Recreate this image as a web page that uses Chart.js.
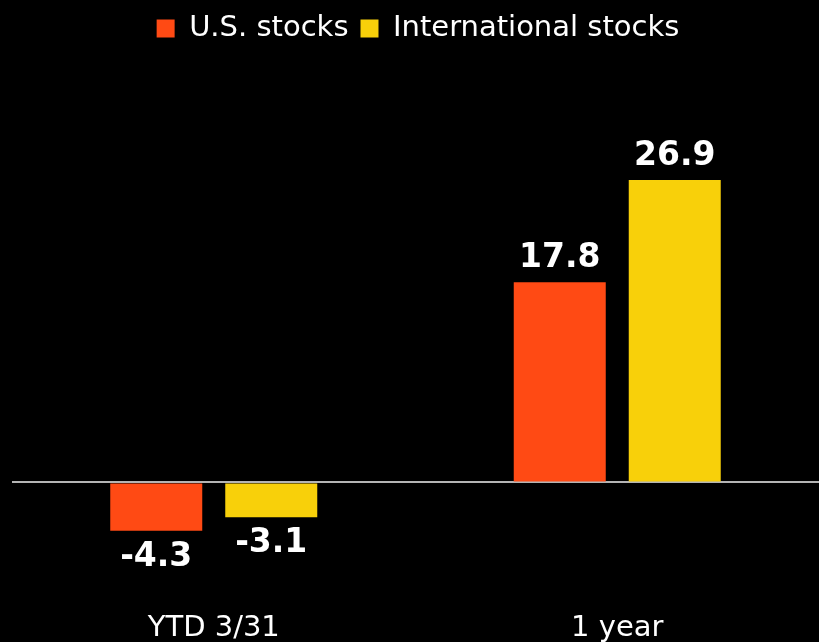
<!DOCTYPE html>
<html>
<head>
<meta charset="utf-8">
<script src="https://cdn.jsdelivr.net/npm/chart.js@4.4.1/dist/chart.umd.min.js"></script>
<style>
    html, body { margin: 0; padding: 0; background: #000; overflow: hidden; }
    #wrap { width: 819px; height: 660px; position: relative; }
</style>
</head>
<body>
<div id="wrap"><canvas id="returnsChart"></canvas></div>
<script>
// Returns by period (%)
const categories = ['YTD 3/31', '1 year'];
const seriesNames = ['U.S. stocks', 'International stocks'];
const usStocks = [-4.3, 17.8];
const intlStocks = [-3.1, 26.9];
const seriesColors = ['#FF4A14', '#F8D00A'];

// Draw the value above / below each bar
const valueLabels = {
    id: 'valueLabels',
    afterDatasetsDraw(chart) {
        const ctx = chart.ctx;
        ctx.save();
        ctx.font = 'bold 33px "DejaVu Sans"';
        ctx.fillStyle = '#ffffff';
        ctx.textAlign = 'center';
        ctx.textBaseline = 'alphabetic';
        chart.data.datasets.forEach((ds, i) => {
            chart.getDatasetMeta(i).data.forEach((bar, j) => {
                const v = ds.data[j];
                const y = v >= 0 ? bar.y - 15 : bar.y + 11 + 24;
                ctx.fillText(v.toFixed(1), bar.x, y);
            });
        });
        ctx.restore();
    }
};

new Chart(document.getElementById('returnsChart'), {
    type: 'bar',
    data: {
        labels: categories,
        datasets: [
            { label: seriesNames[0], data: usStocks, backgroundColor: seriesColors[0] },
            { label: seriesNames[1], data: intlStocks, backgroundColor: seriesColors[1] }
        ]
    },
    options: {
        responsive: true,
        maintainAspectRatio: false,
        animation: false,
        categoryPercentage: 0.57,
        barPercentage: 0.8,
        layout: { padding: { left: 12, right: -5, top: 2, bottom: 0 } },
        plugins: {
            legend: {
                position: 'top',
                labels: {
                    color: '#ffffff',
                    font: { size: 29, family: '"DejaVu Sans"' },
                    boxWidth: 18,
                    boxHeight: 18,
                    padding: 12
                }
            },
            tooltip: { enabled: false }
        },
        scales: {
            x: {
                grid: { display: false },
                border: { display: false },
                ticks: {
                    color: '#ffffff',
                    font: { size: 29, family: '"DejaVu Sans"' },
                    padding: 14
                }
            },
            y: {
                min: -9.5,
                max: 38.2,
                afterBuildTicks: axis => { axis.ticks = [{ value: 0 }]; },
                ticks: { display: false },
                border: { display: false },
                grid: {
                    drawTicks: false,
                    lineWidth: 2,
                    color: ctx => ctx.tick && ctx.tick.value === 0 ? '#b4b4b4' : 'transparent'
                }
            }
        }
    },
    plugins: [valueLabels]
});
</script>
</body>
</html>
